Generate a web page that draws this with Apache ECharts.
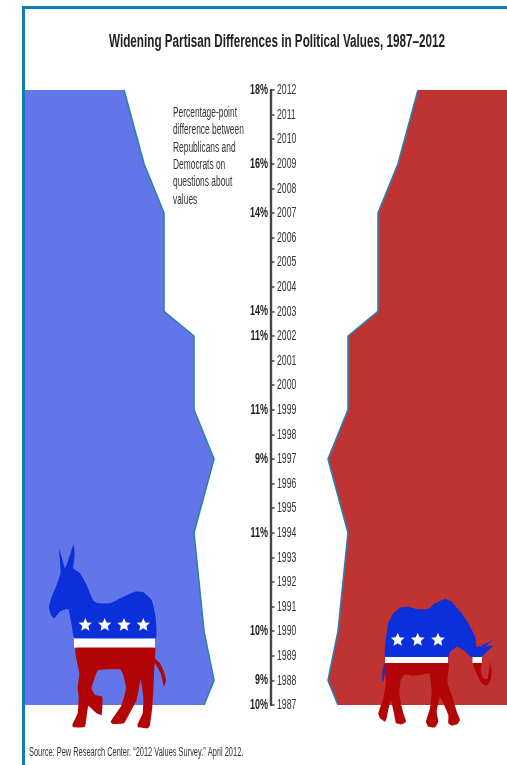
<!DOCTYPE html>
<html>
<head>
<meta charset="utf-8">
<style>html,body{margin:0;padding:0;background:#fff}#c{width:507px;height:765px}</style>
<script src="https://cdn.jsdelivr.net/npm/echarts@6/dist/echarts.min.js"></script>
</head>
<body>
<div id="c"></div>
<script>
var FONT = '"Liberation Sans",Arial,sans-serif';
var years = [1987,1988,1989,1990,1991,1992,1993,1994,1995,1996,1997,1998,1999,2000,2001,2002,2003,2004,2005,2006,2007,2008,2009,2010,2011,2012].map(String);
var pointYears = ['1987','1988','1990','1994','1997','1999','2002','2003','2007','2009','2012'];
var pointGaps  = [10,9,10,11,9,11,11,14,14,16,18];
var noteLines = ['Percentage-point','difference between','Republicans and','Democrats on','questions about','values'];
var titleText = 'Widening Partisan Differences in Political Values, 1987\u20132012';
var sourceText = 'Source: Pew Research Center. \u201c2012 Values Survey.\u201d April 2012.';

var gapByYear = {};
pointYears.forEach(function(y,i){gapByYear[y]=pointGaps[i];});
var gaps = years.map(function(y){return y in gapByYear ? gapByYear[y] : null;});

var DARKBLUE='#0b2fd8', DARKRED='#b30505', WHITE='#ffffff';
function star(cx,cy,r){
  var p=[];
  for(var i=0;i<10;i++){
    var a=-Math.PI/2+i*Math.PI/5, rr=i%2?r*0.46:r;
    p.push([cx+rr*Math.cos(a),cy+rr*Math.sin(a)]);
  }
  return {type:'polygon',z:20,shape:{points:p},style:{fill:WHITE}};
}
function crop(ox,oy,pts){return pts.map(function(p){return [ox+p[0]/3,oy+p[1]/3];});}
function poly(points,fill,smooth){return {type:'polygon',z:20,shape:{points:points,smooth:smooth||0},style:{fill:fill}};}

var donkeyBlue = crop(40,535,[[57,42],[66,70],[75,100],[85,75],[101,28],[104,60],[100,100],[120,115],[140,150],[152,180],[160,197],[175,205],[210,205],[250,185],[285,170],[310,172],[335,195],[346,240],[347,310],[104,310],[95,270],[85,222],[62,228],[42,250],[33,240],[27,215],[35,185],[50,150],[62,112]]);
var donkeyRed = crop(40,630,[[107,53],[345,53],[345,85],[360,100],[372,125],[378,150],[372,170],[362,130],[345,100],[342,130],[340,180],[337,230],[330,285],[324,295],[295,292],[292,285],[308,250],[310,200],[302,150],[290,210],[266,255],[252,280],[218,282],[212,275],[225,255],[245,225],[258,175],[250,135],[240,118],[175,120],[165,140],[155,175],[165,195],[187,200],[185,255],[170,250],[145,228],[135,290],[100,292],[97,285],[113,250],[116,200],[113,170],[118,130]]);
var eleBlue = crop(370,595,[[46,187],[48,130],[55,85],[70,55],[90,38],[115,35],[140,42],[175,42],[195,25],[225,12],[245,20],[262,40],[275,55],[295,85],[315,125],[320,155],[335,152],[370,135],[345,155],[368,152],[345,175],[335,187],[305,187],[280,165],[262,155],[240,170],[235,187]]);
var eleTail = crop(370,655,[[44,20],[45,50],[40,80],[36,75],[38,45]]);
var eleRed = crop(370,655,[[46,23],[235,23],[232,80],[245,120],[262,175],[270,195],[262,208],[245,212],[235,205],[235,180],[210,125],[200,170],[205,200],[195,217],[175,215],[168,200],[180,160],[185,110],[178,55],[150,60],[125,62],[105,58],[92,75],[88,120],[100,175],[108,200],[95,208],[78,205],[72,175],[62,135],[50,190],[45,200],[30,190],[25,175],[40,130],[48,80]]);
var eleTrunk = crop(370,655,[[308,23],[335,23],[332,45],[340,70],[352,72],[358,40],[360,20],[365,45],[362,75],[350,92],[335,85],[322,60]]);

var graphics = [
  {type:'rect',z:30,shape:{x:22,y:6,width:485,height:3},style:{fill:'#0c7fb6'}},
  {type:'rect',z:30,shape:{x:22,y:6,width:3,height:759},style:{fill:'#0c7fb6'}},
  {type:'text',z:20,x:109,y:42,scaleX:0.65,style:{text:titleText,font:'bold 18px '+FONT,fill:'#222',textVerticalAlign:'middle'}},
  {type:'text',z:20,x:29,y:753,scaleX:0.62,style:{text:sourceText,font:'12px '+FONT,fill:'#333',textVerticalAlign:'middle'}},
  poly(donkeyBlue,DARKBLUE,0.12),
  poly(donkeyRed,DARKRED,0.12),
  {type:'rect',z:20,shape:{x:74,y:638.5,width:81,height:9},style:{fill:WHITE}},
  poly(eleBlue,DARKBLUE,0.12),
  poly(eleTail,DARKBLUE),
  poly(eleRed,DARKRED,0.12),
  poly(eleTrunk,DARKRED,0.12),
  {type:'rect',z:20,shape:{x:385,y:657,width:63,height:6},style:{fill:WHITE}},
  {type:'rect',z:20,shape:{x:472.5,y:657,width:9.5,height:6},style:{fill:WHITE}}
];
[85.3,104.7,124,143.3].forEach(function(x){graphics.push(star(x,625,7));});
[397.7,417.7,438].forEach(function(x){graphics.push(star(x,640,7.2));});
noteLines.forEach(function(t,i){
  graphics.push({type:'text',z:20,x:173,y:113+i*17.4,scaleX:0.6,style:{text:t,font:'14px '+FONT,fill:'#333',textVerticalAlign:'middle'}});
});

function yearLabel(params,api){
  var p=api.coord([0,api.value(1)]);
  return {type:'text',x:p[0]+6,y:p[1],scaleX:0.58,style:{text:years[params.dataIndex],font:'15px '+FONT,fill:'#333',textAlign:'left',textVerticalAlign:'middle'}};
}
function gapLabel(params,api){
  var p=api.coord([0,api.value(1)]);
  var t=gapByYear[years[params.dataIndex]];
  if(t===undefined) return null;
  return {type:'text',x:p[0]-3,y:p[1],scaleX:0.64,style:{text:t+'%',font:'bold 14px '+FONT,fill:'#222',textAlign:'right',textVerticalAlign:'middle'}};
}
var axisRows = years.map(function(y){return [0,y];});

var edge = {color:'#2a80b4',width:1.6};
var chart = echarts.init(document.getElementById('c'),null,{renderer:'canvas'});
chart.setOption({
  animation:false,
  backgroundColor:'#fff',
  grid:[
    {left:23,right:203,top:90,bottom:60},
    {left:238,right:0,top:90,bottom:60},
    {left:271,width:1,top:90,bottom:60}
  ],
  xAxis:[
    {gridIndex:0,type:'value',min:0,max:28.1,inverse:true,show:false},
    {gridIndex:1,type:'value',min:0,max:26.9,show:false},
    {gridIndex:2,type:'value',min:0,max:1,show:false}
  ],
  yAxis:[
    {gridIndex:0,type:'category',data:years,boundaryGap:false,show:false},
    {gridIndex:1,type:'category',data:years,boundaryGap:false,show:false},
    {gridIndex:2,type:'category',data:years,boundaryGap:false,position:'left',z:5,
      axisLine:{show:true,lineStyle:{color:'#444',width:2.4}},
      axisTick:{show:true,alignWithLabel:true,interval:0,inside:true,length:3.5,lineStyle:{color:'#444',width:1.5}},
      axisLabel:{show:false}}
  ],
  series:[
    {type:'line',xAxisIndex:0,yAxisIndex:0,data:gaps,connectNulls:true,showSymbol:false,symbol:'none',lineStyle:edge,clip:false,
     areaStyle:{color:'#6276ea',opacity:1,origin:'end'}},
    {type:'line',xAxisIndex:1,yAxisIndex:1,data:gaps,connectNulls:true,showSymbol:false,symbol:'none',lineStyle:edge,clip:false,
     areaStyle:{color:'#c03333',opacity:1,origin:'end'}},
    {type:'custom',xAxisIndex:2,yAxisIndex:2,data:axisRows,renderItem:yearLabel,clip:false,silent:true,encode:{x:0,y:1}},
    {type:'custom',xAxisIndex:2,yAxisIndex:2,data:axisRows,renderItem:gapLabel,clip:false,silent:true,encode:{x:0,y:1}}
  ],
  graphic:{elements:graphics}
});
</script>
</body>
</html>
